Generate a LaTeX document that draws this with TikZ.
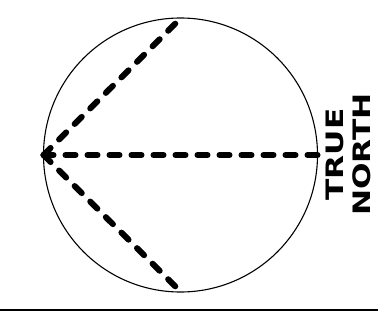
\documentclass[tikz,border=0pt]{standalone}
\usepackage{fontspec}
\usetikzlibrary{positioning,calc}
\newfontfamily\northfont[FakeStretch=1.3]{DejaVu Sans Bold}

\begin{document}
\begin{tikzpicture}[
            x=1pt, y=1pt,
            rim/.style={draw=black, line width=1.1pt},
            bearing/.style={draw=black, line width=6pt, line cap=round, dash pattern=on 10pt off 12pt},
            ground/.style={draw=black, line width=1.8pt},
            label/.style={font=\northfont\fontsize{24}{27}\selectfont, align=center, inner sep=0pt, rotate=90}
        ]
            \useasboundingbox (0,0) rectangle (378,322);

            \coordinate (c) at (180.5,167);
            \coordinate (w) at (43.5,167);
            \coordinate (n) at (181,304);
            \coordinate (s) at (181,30);
            \coordinate (e) at (317.5,167);
            \coordinate (g1) at (0,12);
            \coordinate (g2) at (378,12);

            \draw[rim] (c) circle[radius=137];

            \draw[bearing] (w) -- (n);
            \draw[bearing] (w) -- (e);
            \draw[bearing] (w) -- (s);

            \node[label] (tn) at (348,167.5) {TRUE\\NORTH};

            \draw[ground] (g1) -- (g2);
        \end{tikzpicture}
\end{document}
